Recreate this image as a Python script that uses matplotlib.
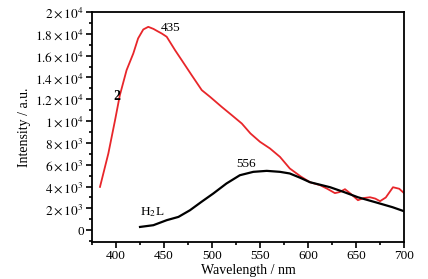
import numpy as np
import matplotlib.pyplot as plt
from matplotlib.ticker import MultipleLocator, FixedLocator, FixedFormatter

plt.rcParams['font.family'] = ['Liberation Serif', 'DejaVu Serif']
plt.rcParams['mathtext.fontset'] = 'stix'

# complex 2 emission (red)
wl_2 = [383.3, 392, 399, 404, 411, 418, 423, 428.4, 433.6, 439, 443, 447.6, 452.8,
        461.5, 468.4, 478.8, 489.3, 498, 510, 520.5, 531, 540, 550, 560.4, 570.8,
        581, 592, 602, 612.5, 620, 628, 633, 638.5, 645, 652, 658, 664.6, 670, 675,
        681, 688.5, 695, 700]
int_2 = [3970, 7030, 10090, 12380, 14670, 16200, 17580, 18400, 18640, 18450, 18250,
         18030, 17730, 16500, 15590, 14210, 12840, 12220, 11310, 10550, 9780, 8870,
         8100, 7490, 6720, 5660, 4950, 4400, 4130, 3800, 3400, 3500, 3760, 3300, 2750,
         2950, 3020, 2900, 2660, 3000, 3940, 3800, 3400]

# free ligand H2L emission (black)
wl_L = [425, 438.9, 452.8, 465, 477, 489, 501.4, 515, 529, 543, 557, 570.8, 581,
        592, 602, 623, 638, 652, 670, 688, 700]
int_L = [300, 460, 920, 1220, 1830, 2600, 3370, 4280, 5040, 5350, 5440, 5350, 5200,
         4800, 4400, 3940, 3480, 3020, 2570, 2110, 1740]

y_ticks = [0, 2000, 4000, 6000, 8000, 10000, 12000, 14000, 16000, 18000, 20000]
y_labels = ['0', r'$2\times10^3$', r'$4\times10^3$', r'$6\times10^3$', r'$8\times10^3$',
            r'$1\times10^4$', r'$1.2\times10^4$', r'$1.4\times10^4$', r'$1.6\times10^4$',
            r'$1.8\times10^4$', r'$2\times10^4$']

fig = plt.figure(figsize=(4.28, 2.79), dpi=100)
ax = fig.add_axes([0.215, 0.133, 0.729, 0.824])

ax.plot(wl_2, int_2, color='#e8262a', lw=1.3)
ax.plot(wl_L, int_L, color='black', lw=1.6)

ax.set_xlim(375, 700)
ax.set_ylim(-1070, 20000)
ax.xaxis.set_major_locator(MultipleLocator(50))
ax.xaxis.set_minor_locator(MultipleLocator(25))
ax.yaxis.set_major_locator(FixedLocator(y_ticks))
ax.yaxis.set_major_formatter(FixedFormatter(y_labels))
ax.yaxis.set_minor_locator(MultipleLocator(1000))
ax.tick_params(which='both', direction='out', top=False, right=False,
               labelsize=9.5, width=1.2, pad=2)
ax.tick_params(which='major', length=4)
ax.tick_params(which='minor', length=2.5)
for s in ax.spines.values():
    s.set_linewidth(1.3)

ax.set_xlabel('Wavelength / nm', fontsize=10, labelpad=1)
ax.set_ylabel('Intensity / a.u.', fontsize=10, labelpad=3)

ax.text(457, 18570, '435', fontsize=9.5, ha='center', va='center')
ax.text(535, 6050, '556', fontsize=9.5, ha='center', va='center')
ax.text(401, 12300, '2', fontsize=10, fontweight='bold', ha='center', va='center')
ax.text(438, 1700, r'H$_2$L', fontsize=9.5, ha='center', va='center')

fig.savefig('out.png', dpi=100)
